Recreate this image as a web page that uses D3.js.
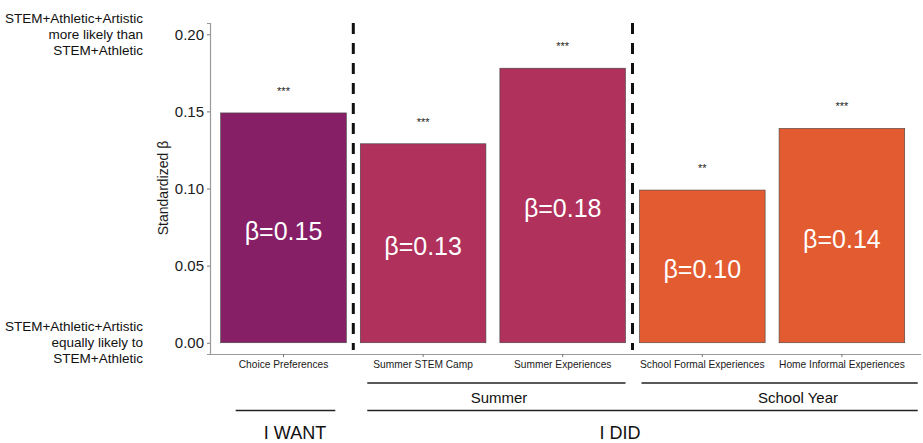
<!DOCTYPE html>
<html>
<head>
<meta charset="utf-8">
<script src="https://cdn.jsdelivr.net/npm/d3@7"></script>
<style>
  html, body { margin: 0; padding: 0; background: #fff; }
  svg { display: block; font-family: "Liberation Sans", Arial, sans-serif; }
</style>
</head>
<body>
<svg id="chart" width="923" height="443"></svg>
<script>
// Standardized β for each experience type
const categories = ["Choice Preferences", "Summer STEM Camp", "Summer Experiences", "School Formal Experiences", "Home Informal Experiences"];
const betas = [0.149, 0.129, 0.178, 0.099, 0.139];
const stars = ["***", "***", "***", "**", "***"];
const barColors = ["#861F66", "#B0315B", "#B0315B", "#E35B30", "#E35B30"];
const yTicks = [0.00, 0.05, 0.10, 0.15, 0.20];
const topNote = ["STEM+Athletic+Artistic", "more likely than", "STEM+Athletic"];
const bottomNote = ["STEM+Athletic+Artistic", "equally likely to", "STEM+Athletic"];
// dividers sit after these category indices
const dividerAfter = [0, 2];

const svg = d3.select("#chart");

const x = d3.scaleBand()
  .domain(categories)
  .range([213.7, 911.7])
  .paddingInner(0.1)
  .paddingOuter(0.05);

const y = d3.scaleLinear()
  .domain([-0.0073, 0.2073])
  .range([354, 23]);

const fmt = d3.format(".2f");

// Axes
const yAxis = d3.axisLeft(y).tickValues(yTicks).tickFormat(d3.format(".2f")).tickSize(3).tickPadding(3);
const gy = svg.append("g").attr("transform", "translate(210,0)").call(yAxis);
gy.select(".domain").attr("stroke", "#9a9a9a").attr("stroke-width", 1.2);
gy.selectAll(".tick line").attr("stroke", "#777");
gy.selectAll(".tick text").attr("font-size", 15).attr("fill", "#1a1a1a")
  .attr("font-family", "Liberation Sans, Arial, sans-serif");

const xAxis = d3.axisBottom(x).tickSize(3).tickPadding(4);
const gx = svg.append("g").attr("transform", "translate(0,354)").call(xAxis);
gx.select(".domain").attr("d", "M210,0.5H921").attr("stroke", "#9a9a9a").attr("stroke-width", 1.2);
gx.selectAll(".tick line").attr("stroke", "#777");
gx.selectAll(".tick text").attr("font-size", 10.2).attr("fill", "#1a1a1a")
  .attr("font-family", "Liberation Sans, Arial, sans-serif");

// Y axis title
svg.append("text")
  .attr("transform", "translate(168,188) rotate(-90)")
  .attr("text-anchor", "middle")
  .attr("font-size", 14)
  .attr("fill", "#1a1a1a")
  .text("Standardized β");

// Bars
svg.append("g").selectAll("rect")
  .data(categories)
  .join("rect")
  .attr("x", d => x(d))
  .attr("width", x.bandwidth())
  .attr("y", (d, i) => y(betas[i]))
  .attr("height", (d, i) => y(0) - y(betas[i]))
  .attr("fill", (d, i) => barColors[i])
  .attr("stroke", "#444")
  .attr("stroke-width", 0.6);

// β labels inside bars
svg.append("g").selectAll("text")
  .data(categories)
  .join("text")
  .attr("x", d => x(d) + x.bandwidth() / 2)
  .attr("y", (d, i) => y(betas[i] / 2) + 3)
  .attr("text-anchor", "middle")
  .attr("dominant-baseline", "central")
  .attr("font-size", 25)
  .attr("fill", "#fff")
  .text((d, i) => "β=" + fmt(betas[i]));

// Significance stars
svg.append("g").selectAll("text")
  .data(categories)
  .join("text")
  .attr("x", d => x(d) + x.bandwidth() / 2)
  .attr("y", (d, i) => y(betas[i]) - 18)
  .attr("text-anchor", "middle")
  .attr("font-size", 11)
  .attr("fill", "#222")
  .text((d, i) => stars[i]);

// Dashed dividers between groups
const step = x.step();
svg.append("g").selectAll("line")
  .data(dividerAfter)
  .join("line")
  .attr("x1", i => x(categories[i]) + x.bandwidth() + (step - x.bandwidth()) / 2)
  .attr("x2", i => x(categories[i]) + x.bandwidth() + (step - x.bandwidth()) / 2)
  .attr("y1", 23)
  .attr("y2", 350)
  .attr("stroke", "#111")
  .attr("stroke-width", 3)
  .attr("stroke-dasharray", "11,9");

// Left-side annotations aligned with 0.20 and 0.00
function note(lines, yc) {
  const t = svg.append("text")
    .attr("text-anchor", "end")
    .attr("font-size", 13.5)
    .attr("fill", "#111");
  lines.forEach((s, i) => {
    t.append("tspan")
      .attr("x", 143)
      .attr("y", yc + (i - 1) * 16)
      .attr("dominant-baseline", "central")
      .text(s);
  });
}
note(topNote, y(0.20));
note(bottomNote, y(0.00));

// Group brackets below the axis
const bw = x.bandwidth();
const groupLines = [
  { x1: x(categories[1]) + 7, x2: x(categories[2]) + bw, y: 383, label: "Summer", size: 15, ly: 397 },
  { x1: x(categories[3]) + 2, x2: x(categories[4]) + bw + 13, y: 383, label: "School Year", size: 15, ly: 397 },
  { x1: x(categories[1]) + 7, x2: x(categories[4]) + bw + 13, y: 410.5, label: "I DID", size: 18, ly: 433 },
  { x1: x(categories[0]) + 15, x2: x(categories[0]) + bw - 11, y: 410.5, label: "I WANT", size: 18, ly: 433 }
];
const lx = { "Summer": 499, "School Year": 798, "I DID": 620, "I WANT": 295 };

svg.append("g").selectAll("line")
  .data(groupLines)
  .join("line")
  .attr("x1", d => d.x1)
  .attr("x2", d => d.x2)
  .attr("y1", d => d.y)
  .attr("y2", d => d.y)
  .attr("stroke", "#222")
  .attr("stroke-width", 1.5);

svg.append("g").selectAll("text")
  .data(groupLines)
  .join("text")
  .attr("x", d => lx[d.label])
  .attr("y", d => d.ly)
  .attr("text-anchor", "middle")
  .attr("dominant-baseline", "central")
  .attr("font-size", d => d.size)
  .attr("fill", "#111")
  .text(d => d.label);
</script>
</body>
</html>
